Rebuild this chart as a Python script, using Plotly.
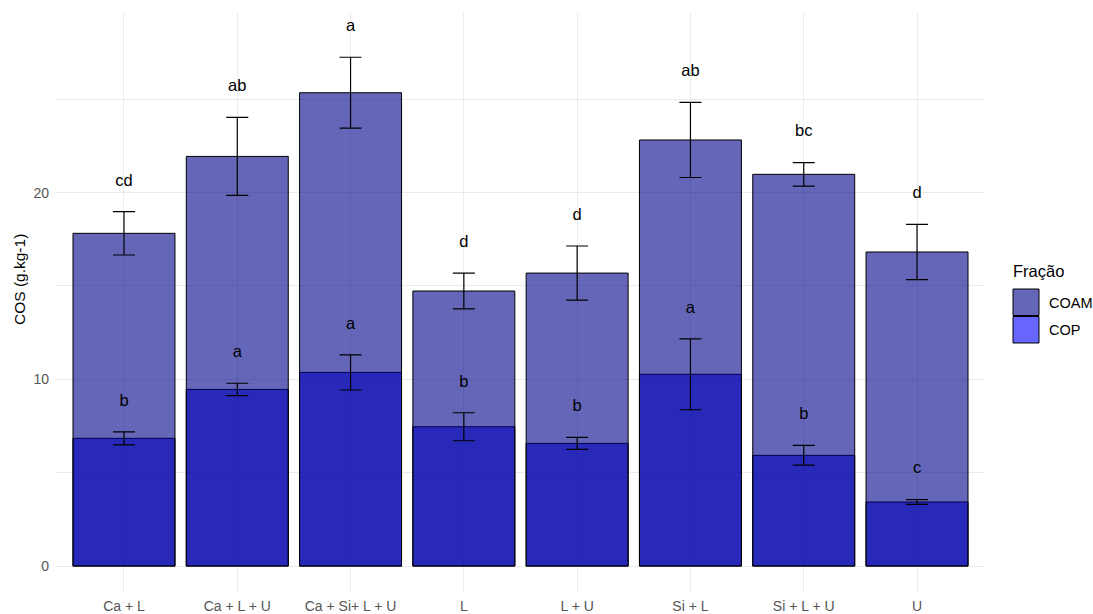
import plotly.graph_objects as go

# Soil organic carbon (COS) by treatment, split into two fractions
categories = ["Ca + L", "Ca + L + U", "Ca + Si+ L + U", "L", "L + U", "Si + L", "Si + L + U", "U"]

coam_mean = [17.82, 21.94, 25.35, 14.73, 15.69, 22.82, 20.98, 16.82]
coam_sd = [1.16, 2.09, 1.90, 0.96, 1.45, 2.01, 0.63, 1.48]
coam_letters = ["cd", "ab", "a", "d", "d", "ab", "bc", "d"]

cop_mean = [6.84, 9.46, 10.37, 7.46, 6.57, 10.27, 5.93, 3.43]
cop_sd = [0.35, 0.33, 0.94, 0.75, 0.32, 1.90, 0.53, 0.13]
cop_letters = ["b", "a", "a", "b", "b", "a", "b", "c"]

legend_title = "Fração"
series_names = ["COAM", "COP"]
y_title = "COS (g.kg-1)"

# ---- styling ----
FONT = "Liberation Sans, Arial, sans-serif"
COAM_FILL = "rgba(0,0,139,0.6)"
COP_FILL = "rgba(0,0,255,0.6)"
COAM_KEY = "#6666B9"
COP_KEY = "#6666FF"
GRID = "#ebebeb"
LABEL_GAP = 1.62

W_FIG, H_FIG = 1093, 614
M_L, M_R, M_T, M_B = 56, 108, 13, 22
plot_w = W_FIG - M_L - M_R
plot_h = H_FIG - M_T - M_B


def px_x(x):
    return (x - M_L) / plot_w


def px_y(y):
    return (H_FIG - M_B - y) / plot_h


xs = list(range(len(categories)))

fig = go.Figure()

# COP drawn first, COAM over it (identity position, translucent fills)
fig.add_trace(go.Bar(
    x=xs, y=cop_mean, width=0.9, name=series_names[1],
    marker=dict(color=COP_FILL, line=dict(color="black", width=1)),
    showlegend=False, hoverinfo="skip",
))
fig.add_trace(go.Bar(
    x=xs, y=coam_mean, width=0.9, name=series_names[0],
    marker=dict(color=COAM_FILL, line=dict(color="black", width=1)),
    showlegend=False, hoverinfo="skip",
))

# error bars on top of both bar layers
for means, sds in ((coam_mean, coam_sd), (cop_mean, cop_sd)):
    fig.add_trace(go.Scatter(
        x=xs, y=means, mode="markers",
        marker=dict(size=1, color="rgba(0,0,0,0)"),
        error_y=dict(type="data", array=sds, visible=True,
                     color="black", thickness=1.2, width=11),
        showlegend=False, hoverinfo="skip",
    ))

# significance letters
for means, sds, letters in ((coam_mean, coam_sd, coam_letters),
                            (cop_mean, cop_sd, cop_letters)):
    fig.add_trace(go.Scatter(
        x=xs, y=[m + s + LABEL_GAP for m, s in zip(means, sds)],
        mode="text", text=letters, textposition="middle center",
        textfont=dict(family=FONT, size=16.5, color="black"),
        showlegend=False, hoverinfo="skip",
    ))

# legend keys and labels
shapes = []
annotations = []
key_rows = [(series_names[0], COAM_KEY, 289), (series_names[1], COP_KEY, 316.5)]
for name, col, top in key_rows:
    shapes.append(dict(
        type="rect", xref="paper", yref="paper",
        x0=px_x(1013), x1=px_x(1039), y0=px_y(top + 26.5), y1=px_y(top),
        fillcolor=col, line=dict(color="black", width=1), layer="above",
    ))
    annotations.append(dict(
        xref="paper", yref="paper", x=px_x(1047), y=px_y(top + 13.5),
        xanchor="left", yanchor="middle", showarrow=False, text=name,
        font=dict(family=FONT, size=14.5, color="black"),
    ))
annotations.append(dict(
    xref="paper", yref="paper", x=px_x(1011), y=px_y(271),
    xanchor="left", yanchor="middle", showarrow=False, text=legend_title,
    font=dict(family=FONT, size=16.5, color="black"),
))
annotations.append(dict(
    xref="paper", yref="paper", x=px_x(19), y=px_y(280),
    xanchor="center", yanchor="middle", showarrow=False, text=y_title,
    textangle=-90, font=dict(family=FONT, size=15.5, color="black"),
))

fig.update_layout(
    width=W_FIG, height=H_FIG,
    margin=dict(l=M_L, r=M_R, t=M_T, b=M_B, autoexpand=False),
    paper_bgcolor="white", plot_bgcolor="white",
    barmode="overlay",
    showlegend=False,
    shapes=shapes, annotations=annotations,
    font=dict(family=FONT),
)
fig.update_xaxes(
    range=[-0.6, len(categories) - 0.4],
    tickmode="array", tickvals=xs, ticktext=categories,
    showgrid=True, gridcolor=GRID, gridwidth=1,
    zeroline=False, showline=False, ticks="",
    tickfont=dict(family=FONT, size=14, color="#555555"),
    ticklabelstandoff=4, automargin=False,
)
fig.update_yaxes(
    range=[-1.39, 29.62],
    tickmode="linear", tick0=0, dtick=10,
    showgrid=True, gridcolor=GRID, gridwidth=1,
    minor=dict(dtick=5, showgrid=True, gridcolor=GRID, gridwidth=0.7, ticks=""),
    zeroline=False, showline=False, ticks="",
    tickfont=dict(family=FONT, size=14, color="#555555"),
    ticklabelstandoff=6, automargin=False,
)

fig.write_html("out.html")
